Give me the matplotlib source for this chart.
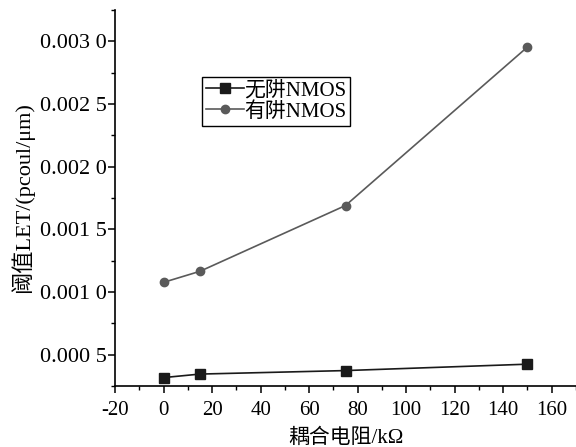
import matplotlib
matplotlib.use("Agg")
import matplotlib.pyplot as plt
from matplotlib.ticker import MultipleLocator, FuncFormatter

x = [0, 15, 75, 150]
no_well = [0.000317, 0.000345, 0.000373, 0.000424]
with_well = [0.001077, 0.001165, 0.001690, 0.002955]
labels = ["无阱NMOS", "有阱NMOS"]

fam = ["Liberation Serif", "Noto Sans CJK SC"]
plt.rcParams['font.family'] = fam
plt.rcParams['axes.unicode_minus'] = False

fig = plt.figure(figsize=(5.76, 4.47), dpi=100)
ax = fig.add_axes([0.1997, 0.1365, 0.8003, 0.8411])

ax.plot(x, no_well, '-s', color='#1a1a1a', markersize=7, linewidth=1.2, label=labels[0])
ax.plot(x, with_well, '-o', color='#5a5a5a', markersize=6, linewidth=1.2, label=labels[1])

ax.set_xlim(-20, 170)
ax.set_ylim(0.00025, 0.00325)
ax.xaxis.set_major_locator(MultipleLocator(20))
ax.xaxis.set_minor_locator(MultipleLocator(10))
ax.yaxis.set_major_locator(MultipleLocator(0.0005))
ax.yaxis.set_minor_locator(MultipleLocator(0.00025))

def yfmt(v, pos):
    s = "%.4f" % v
    return s[:5] + " " + s[5:]
ax.yaxis.set_major_formatter(FuncFormatter(yfmt))

for s in ['top', 'right']:
    ax.spines[s].set_visible(False)
for s in ['left', 'bottom']:
    ax.spines[s].set_linewidth(1.2)
ax.tick_params(which='major', direction='out', length=5, width=1.1, labelsize=15)
ax.tick_params(which='minor', direction='out', length=3, width=1.0)
ax.tick_params(axis='x', pad=6)
ax.tick_params(axis='y', labelsize=16, pad=1)

ax.set_xlabel("耦合电阻/kΩ", fontsize=15, family=fam, labelpad=6)
ax.set_ylabel("阈值LET/(pcoul/μm)", fontsize=16, family=fam, labelpad=4)

leg = ax.legend(loc='upper left', bbox_to_anchor=(0.189, 0.822), fontsize=15,
                frameon=True, fancybox=False, edgecolor='black', framealpha=1,
                handlelength=1.8, handletextpad=0.0, borderpad=0.2, labelspacing=0.05,
                borderaxespad=0)
leg.get_frame().set_linewidth(1.0)

fig.savefig("out.png", dpi=100)
